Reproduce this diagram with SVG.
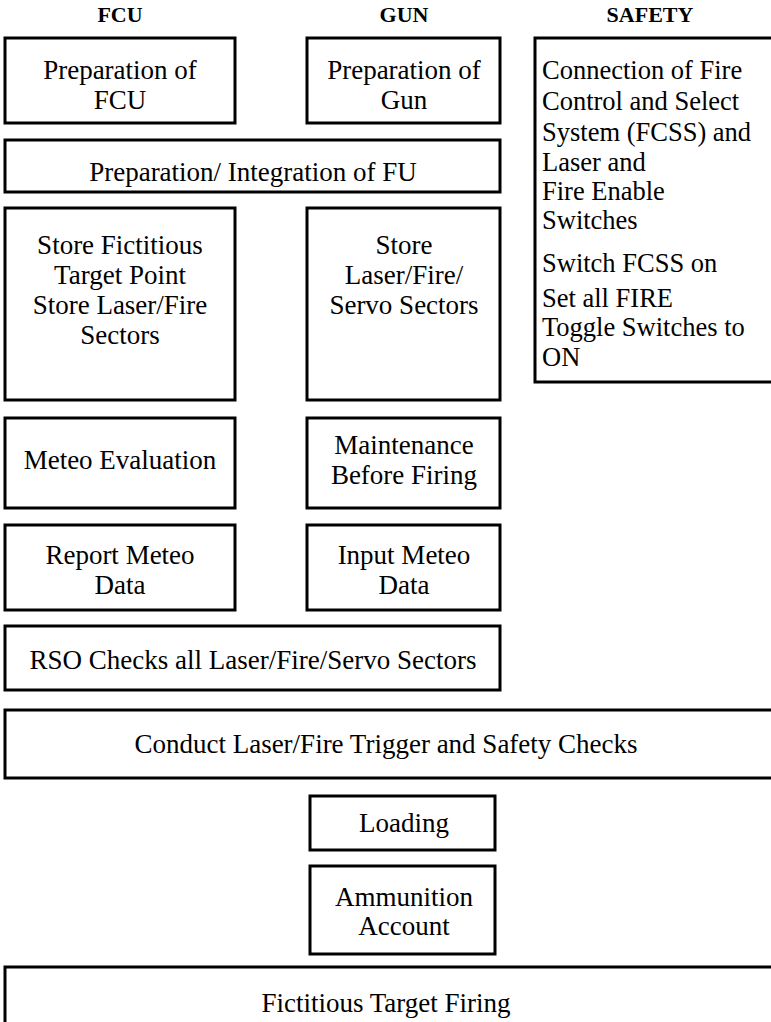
<svg xmlns="http://www.w3.org/2000/svg" width="771" height="1022" viewBox="0 0 771 1022">
<style>
.box{fill:#fff;stroke:#000;stroke-width:3}
text{fill:#000}
.t{font-family:'Liberation Serif','Times New Roman',serif;font-weight:400;font-size:27px;text-anchor:middle}
.l{text-anchor:start;font-size:26.5px}
.h{font-family:'Liberation Serif','Times New Roman',serif;font-size:22px;font-weight:bold;text-anchor:middle}
</style>
<rect width="771" height="1022" fill="#fff"/>
<g id="headers">
<text class="h" x="120" y="22">FCU</text>
<text class="h" x="404" y="22">GUN</text>
<text class="h" x="650" y="22">SAFETY</text>
</g>
<g id="prep-fcu"><rect class="box" x="5" y="38" width="230" height="85"/>
<text class="t" x="120" y="79">Preparation of</text><text class="t" x="120" y="109">FCU</text></g>
<g id="prep-gun"><rect class="box" x="307" y="38" width="193" height="85"/>
<text class="t" x="404" y="79">Preparation of</text><text class="t" x="404" y="109">Gun</text></g>
<g id="safety"><rect class="box" x="535" y="38" width="260" height="344"/>
<text class="t l" x="542" y="79">Connection of Fire</text>
<text class="t l" x="542" y="110">Control and Select</text>
<text class="t l" x="542" y="141">System (FCSS) and</text>
<text class="t l" x="542" y="171">Laser and</text>
<text class="t l" x="542" y="200">Fire Enable</text>
<text class="t l" x="542" y="229">Switches</text>
<text class="t l" x="542" y="272">Switch FCSS on</text>
<text class="t l" x="542" y="307">Set all FIRE</text>
<text class="t l" x="542" y="336">Toggle Switches to</text>
<text class="t l" x="542" y="366">ON</text></g>
<g id="prep-fu"><rect class="box" x="5" y="140" width="495" height="52"/>
<text class="t" x="253" y="181">Preparation/ Integration of FU</text></g>
<g id="store-fcu"><rect class="box" x="5" y="208" width="230" height="192"/>
<text class="t" x="120" y="254">Store Fictitious</text>
<text class="t" x="120" y="284">Target Point</text>
<text class="t" x="120" y="314">Store Laser/Fire</text>
<text class="t" x="120" y="344">Sectors</text></g>
<g id="store-gun"><rect class="box" x="307" y="208" width="193" height="192"/>
<text class="t" x="404" y="254">Store</text>
<text class="t" x="404" y="284">Laser/Fire/</text>
<text class="t" x="404" y="314">Servo Sectors</text></g>
<g id="meteo-eval"><rect class="box" x="5" y="418" width="230" height="90"/>
<text class="t" x="120" y="469">Meteo Evaluation</text></g>
<g id="maintenance"><rect class="box" x="307" y="418" width="193" height="90"/>
<text class="t" x="404" y="454">Maintenance</text>
<text class="t" x="404" y="484">Before Firing</text></g>
<g id="report-meteo"><rect class="box" x="5" y="525" width="230" height="85"/>
<text class="t" x="120" y="564">Report Meteo</text>
<text class="t" x="120" y="594">Data</text></g>
<g id="input-meteo"><rect class="box" x="307" y="525" width="193" height="85"/>
<text class="t" x="404" y="564">Input Meteo</text>
<text class="t" x="404" y="594">Data</text></g>
<g id="rso"><rect class="box" x="5" y="626" width="495" height="64"/>
<text class="t" x="253" y="669">RSO Checks all Laser/Fire/Servo Sectors</text></g>
<g id="conduct"><rect class="box" x="5" y="710" width="790" height="68"/>
<text class="t" x="386" y="753">Conduct Laser/Fire Trigger and Safety Checks</text></g>
<g id="loading"><rect class="box" x="310" y="796" width="185" height="54"/>
<text class="t" x="404" y="832">Loading</text></g>
<g id="ammo"><rect class="box" x="310" y="866" width="185" height="88"/>
<text class="t" x="404" y="906">Ammunition</text>
<text class="t" x="404" y="935">Account</text></g>
<g id="firing"><rect class="box" x="5" y="967" width="790" height="75"/>
<text class="t" x="386" y="1012">Fictitious Target Firing</text></g>
<g id="connectors"/>
</svg>
